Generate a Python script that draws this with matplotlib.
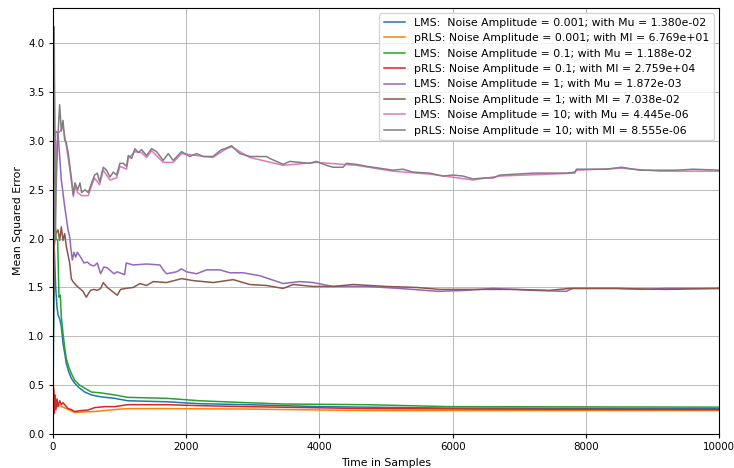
import matplotlib
matplotlib.use('Agg')
from matplotlib import pyplot as plt

# values (sample index, MSE)
lms_001_x = [0, 20, 40, 60, 75, 100, 125, 150, 175, 200, 235, 275, 325, 400, 475, 575, 725, 925, 1125, 1705,
             2205, 2930, 4000, 6000, 10000]
lms_001_y = [0.4, 1.9, 1.5, 1.3, 1.22, 1.18, 1.10, 0.93, 0.83, 0.72, 0.64, 0.57, 0.52, 0.47, 0.43, 0.40, 0.38,
             0.365, 0.34, 0.33, 0.31, 0.30, 0.28, 0.265, 0.26]

prls_001_x = [0, 10, 25, 50, 100, 200, 325, 425, 625, 925, 1125, 1705, 2930, 4705, 10000]
prls_001_y = [0.6, 0.45, 0.34, 0.30, 0.29, 0.26, 0.22, 0.225, 0.23, 0.25, 0.26, 0.26, 0.255, 0.24, 0.24]

lms_01_x = [0, 20, 45, 70, 90, 110, 125, 150, 175, 200, 235, 275, 325, 400, 475, 575, 725, 925, 1125, 1705,
            2205, 2930, 3455, 4705, 5955, 10000]
lms_01_y = [0.5, 2.3, 2.0, 1.98, 1.40, 1.42, 1.20, 1.03, 0.89, 0.77, 0.69, 0.62, 0.55, 0.50, 0.47, 0.43, 0.42,
            0.40, 0.375, 0.365, 0.34, 0.32, 0.307, 0.30, 0.28, 0.275]

prls_01_x = [0, 10, 20, 30, 45, 60, 75, 100, 125, 150, 175, 225, 275, 325, 425, 525, 625, 775, 925, 1125,
             1705, 2205, 2930, 4705, 6500, 10000]
prls_01_y = [0.5, 0.45, 0.21, 0.40, 0.25, 0.36, 0.28, 0.34, 0.30, 0.32, 0.30, 0.26, 0.25, 0.23, 0.24, 0.245,
             0.27, 0.28, 0.28, 0.30, 0.30, 0.29, 0.28, 0.26, 0.255, 0.25]

lms_1_x = [0, 15, 40, 75, 125, 175, 205, 225, 250, 265, 290, 315, 340, 365, 415, 465, 515, 565, 615, 665,
           715, 765, 815, 865, 915, 965, 1040, 1075, 1100, 1205, 1405, 1605, 1655, 1705, 1855, 1930, 2005, 2155,
           2305, 2405, 2505, 2655, 2855, 3105, 3455, 3705, 3905, 4205, 4705, 5205, 5780, 6205, 6605, 7205,
           7705, 7805, 8455, 8855, 9205, 10000]
lms_1_y = [0.6, 2.5, 3.1, 3.08, 2.60, 2.33, 2.19, 2.09, 2.02, 1.92, 1.78, 1.86, 1.81, 1.86, 1.81, 1.75, 1.76,
           1.73, 1.72, 1.75, 1.64, 1.71, 1.70, 1.67, 1.64, 1.66, 1.64, 1.63, 1.75, 1.73, 1.74, 1.73, 1.68, 1.64,
           1.66, 1.69, 1.66, 1.64, 1.68, 1.68, 1.68, 1.65, 1.65, 1.62, 1.54, 1.56, 1.55, 1.51, 1.51, 1.49, 1.46,
           1.47, 1.49, 1.47, 1.46, 1.49, 1.49, 1.48, 1.49, 1.49]

prls_1_x = [0, 15, 40, 75, 100, 125, 150, 175, 200, 250, 275, 300, 350, 400, 450, 500, 535, 565, 615, 665,
            715, 755, 815, 890, 965, 1015, 1090, 1205, 1305, 1405, 1505, 1705, 1930, 2105, 2405, 2705, 2955,
            3205, 3455, 3605, 3905, 4205, 4505, 5005, 5455, 5805, 6355, 6955, 7455, 7755, 8455, 9205, 10000]
prls_1_y = [1.0, 1.9, 2.05, 2.09, 1.98, 2.12, 1.98, 2.05, 1.92, 1.75, 1.59, 1.56, 1.52, 1.49, 1.46, 1.40,
            1.44, 1.47, 1.48, 1.47, 1.49, 1.55, 1.50, 1.46, 1.42, 1.48, 1.49, 1.50, 1.54, 1.52, 1.56, 1.55,
            1.59, 1.57, 1.55, 1.58, 1.53, 1.52, 1.49, 1.53, 1.51, 1.51, 1.53, 1.51, 1.50, 1.48, 1.48, 1.48,
            1.47, 1.49, 1.49, 1.48, 1.49]

lms_10_x = [0, 15, 35, 55, 80, 110, 150, 200, 255, 305, 330, 370, 430, 530, 580, 625, 700, 755, 855, 955,
            1005, 1105, 1130, 1230, 1330, 1405, 1480, 1655, 1805, 1930, 2155, 2400, 2580, 2680, 2955, 3455,
            3955, 4555, 5105, 5655, 6305, 6710, 7460, 7835, 7860, 8535, 9110, 10000]
lms_10_y = [0.5, 3.9, 2.5, 2.95, 3.08, 3.1, 3.15, 2.95, 2.70, 2.43, 2.54, 2.47, 2.44, 2.44, 2.54, 2.62, 2.55,
            2.70, 2.60, 2.62, 2.74, 2.71, 2.82, 2.89, 2.88, 2.83, 2.90, 2.78, 2.78, 2.87, 2.85, 2.83, 2.91,
            2.94, 2.83, 2.75, 2.78, 2.75, 2.69, 2.66, 2.60, 2.64, 2.66, 2.67, 2.70, 2.72, 2.69, 2.69]

prls_10_x = [0, 18, 35, 50, 70, 100, 125, 150, 175, 200, 230, 255, 280, 305, 330, 370, 405, 430, 480, 530,
             580, 625, 665, 700, 755, 805, 855, 905, 955, 1005, 1055, 1105, 1130, 1180, 1230, 1280, 1330, 1405,
             1480, 1555, 1655, 1730, 1805, 1930, 2055, 2155, 2255, 2400, 2530, 2580, 2680, 2805, 2955, 3205,
             3255, 3455, 3555, 3705, 3855, 3955, 4105, 4205, 4355, 4405, 4555, 4705, 4905, 5105, 5255, 5405,
             5655, 5855, 6005, 6155, 6305, 6455, 6605, 6710, 6960, 7210, 7460, 7710, 7835, 7860, 8110, 8310,
             8535, 8810, 9110, 9360, 9610, 10000]
prls_10_y = [0.9, 4.17, 2.0, 2.6, 3.0, 3.37, 3.10, 3.21, 3.01, 2.98, 2.87, 2.73, 2.60, 2.45, 2.57, 2.50, 2.57,
             2.47, 2.50, 2.47, 2.57, 2.65, 2.67, 2.58, 2.73, 2.70, 2.63, 2.68, 2.65, 2.77, 2.77, 2.74, 2.85,
             2.82, 2.92, 2.88, 2.91, 2.85, 2.92, 2.89, 2.80, 2.87, 2.80, 2.89, 2.84, 2.87, 2.84, 2.84, 2.91,
             2.92, 2.95, 2.87, 2.84, 2.84, 2.82, 2.76, 2.79, 2.78, 2.77, 2.79, 2.75, 2.73, 2.73, 2.77, 2.76,
             2.74, 2.72, 2.70, 2.71, 2.68, 2.67, 2.64, 2.65, 2.64, 2.61, 2.62, 2.62, 2.65, 2.66, 2.67, 2.67,
             2.67, 2.68, 2.71, 2.71, 2.71, 2.73, 2.70, 2.70, 2.70, 2.71, 2.70]

noise_amps = ['0.001', '0.1', '1', '10']
lms_mu = ['1.380e-02', '1.188e-02', '1.872e-03', '4.445e-06']
prls_mi = ['6.769e+01', '2.759e+04', '7.038e-02', '8.555e-06']

curves = [
    (lms_001_x, lms_001_y), (prls_001_x, prls_001_y),
    (lms_01_x, lms_01_y), (prls_01_x, prls_01_y),
    (lms_1_x, lms_1_y), (prls_1_x, prls_1_y),
    (lms_10_x, lms_10_y), (prls_10_x, prls_10_y),
]
labels = []
for amp, mu, mi in zip(noise_amps, lms_mu, prls_mi):
    labels.append('LMS:  Noise Amplitude = {}; with Mu = {}'.format(amp, mu))
    labels.append('pRLS: Noise Amplitude = {}; with MI = {}'.format(amp, mi))

plt.rcParams['font.size'] = 7.8
plt.rcParams['xtick.labelsize'] = 7.4
plt.rcParams['ytick.labelsize'] = 7.4
plt.rcParams['xtick.major.size'] = 2.6
plt.rcParams['ytick.major.size'] = 2.6

fig = plt.figure(figsize=(7.34, 4.68), dpi=100)
ax = fig.add_axes([53 / 734, 1 - 434 / 468, 666 / 734, 426 / 468])

for (xs, ys), lab in zip(curves, labels):
    ax.plot(xs, ys, linewidth=1.1, label=lab)

ax.set_xlim(0, 10000)
ax.set_ylim(0, 4.36)
ax.set_yticks([0.0, 0.5, 1.0, 1.5, 2.0, 2.5, 3.0, 3.5, 4.0])
ax.grid(True, linewidth=0.6)
ax.set_xlabel('Time in Samples')
ax.set_ylabel('Mean Squared Error')
ax.legend(loc='upper right', handlelength=2.0)

fig.savefig('out.png', dpi=100)
